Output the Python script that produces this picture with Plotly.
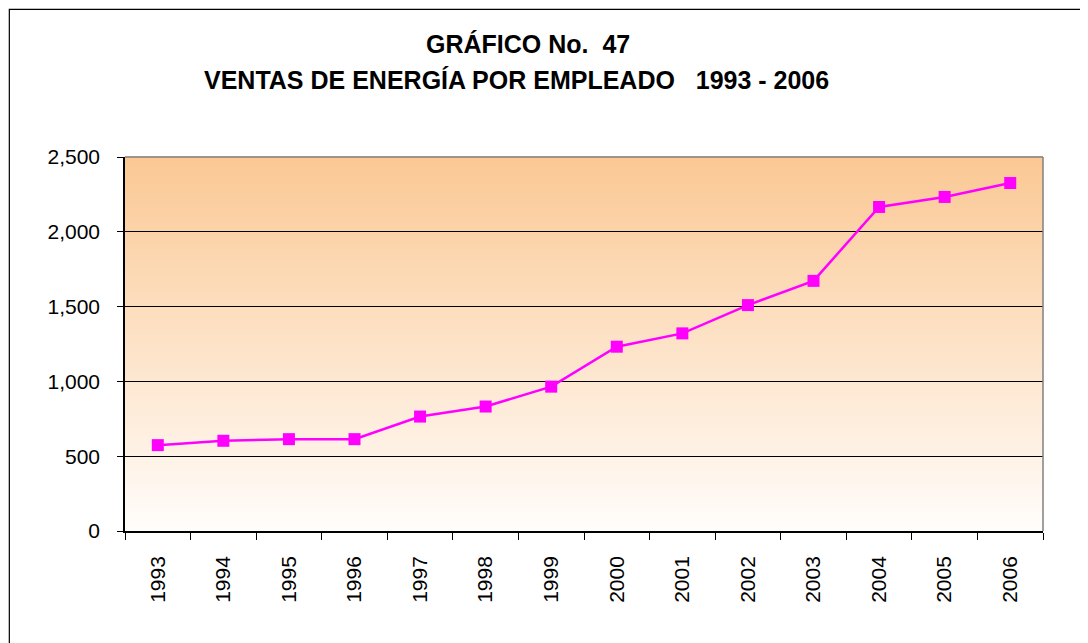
import plotly.graph_objects as go

# datos
anios = ["1993", "1994", "1995", "1996", "1997", "1998", "1999",
         "2000", "2001", "2002", "2003", "2004", "2005", "2006"]
ventas = [574, 603, 614, 614, 765, 832, 965,
          1232, 1321, 1510, 1672, 2166, 2233, 2326]
y_ticks = [0, 500, 1000, 1500, 2000, 2500]

# la pagina deja 8px de margen en el body, se descuenta aqui
OFF = 8
W, H = 1088 - OFF, 643 - OFF
L, T = 124.5 - OFF, 156.7 - OFF
R = W - (1042.7 - OFF)
B = H - (531.3 - OFF)
pw, ph = W - L - R, H - T - B


def px(x):
    return (x - OFF - L) / pw


def py(y):
    return (H - B - (y - OFF)) / ph


fig = go.Figure()
fig.add_trace(go.Scatter(
    x=anios, y=ventas, mode="lines+markers",
    line=dict(color="#FF00FF", width=2.5),
    marker=dict(symbol="square", size=12, color="#FF00FF"),
    showlegend=False, cliponaxis=False))

# fondo degradado (bandas)
top = (251, 200, 148)
bot = (255, 253, 251)
n = 80
shapes = []
for i in range(n):
    t = (i + 0.5) / n
    c = tuple(round(bot[k] + (top[k] - bot[k]) * t) for k in range(3))
    shapes.append(dict(type="rect", xref="x domain", yref="y domain",
                       x0=0, x1=1, y0=i / n, y1=(i + 1) / n + 0.002,
                       fillcolor="rgb(%d,%d,%d)" % c, line_width=0, layer="below"))
# borde superior y derecho del area de trazado
shapes.append(dict(type="line", xref="paper", yref="paper", x0=0, x1=1, y0=1, y1=1,
                   line=dict(color="#808080", width=1.5)))
shapes.append(dict(type="line", xref="paper", yref="paper", x0=1, x1=1, y0=0, y1=1,
                   line=dict(color="#808080", width=1.5)))
# marco exterior
shapes.append(dict(type="rect", xref="paper", yref="paper",
                   x0=px(8.8), x1=px(1100), y0=py(660), y1=py(8.8),
                   line=dict(color="black", width=1.2), fillcolor="rgba(0,0,0,0)"))

fnt = "Liberation Sans, Arial, sans-serif"
nb = "\u00a0"
annotations = [
    dict(text="<b>GRÁFICO No." + nb + nb + "47</b>", xref="paper", yref="paper",
         x=px(424), y=py(44), showarrow=False, xanchor="left", yanchor="middle",
         font=dict(family=fnt, size=25, color="black")),
    dict(text="<b>VENTAS DE ENERGÍA POR EMPLEADO" + nb * 3 + "1993 - 2006</b>",
         xref="paper", yref="paper",
         x=px(202), y=py(80), showarrow=False, xanchor="left", yanchor="middle",
         font=dict(family=fnt, size=25, color="black")),
]

fig.update_layout(
    width=W, height=H,
    margin=dict(l=L, r=R, t=T, b=B, pad=0),
    paper_bgcolor="white", plot_bgcolor="white",
    shapes=shapes, annotations=annotations,
    font=dict(family=fnt, size=21, color="black"),
    xaxis=dict(type="category", tickangle=-90, showgrid=False,
               showline=True, linecolor="black", linewidth=1.5,
               ticks="outside", ticklen=7, tickcolor="black", tickson="boundaries",
               ticklabelstandoff=15, range=[-0.5, len(anios) - 0.5], fixedrange=True),
    yaxis=dict(range=[0, 2500], tickvals=y_ticks, tickformat=",d",
               showgrid=True, gridcolor="black", gridwidth=1,
               showline=True, linecolor="black", linewidth=1.5,
               ticks="outside", ticklen=6, tickcolor="black",
               ticklabelstandoff=13, zeroline=False, fixedrange=True),
)

fig.write_html("out.html")
